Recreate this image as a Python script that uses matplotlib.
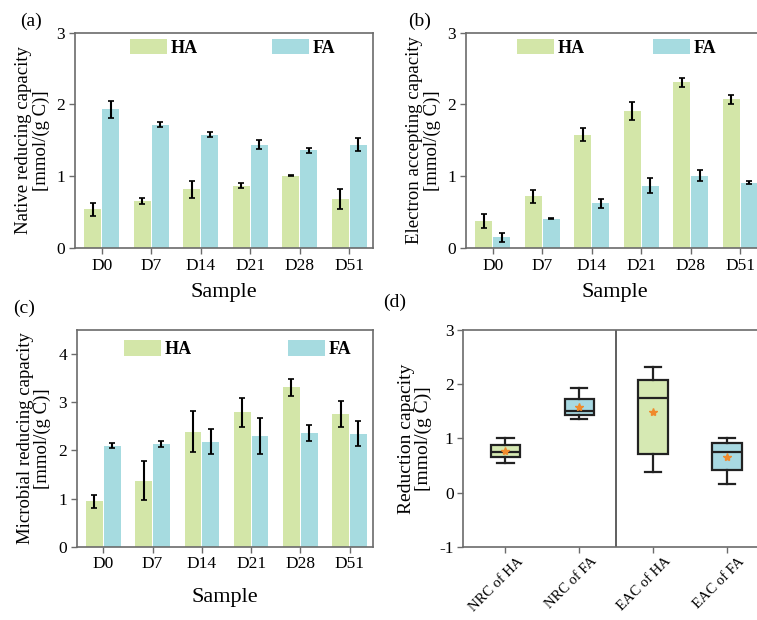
import numpy as np
import matplotlib
matplotlib.use('Agg')
import matplotlib.pyplot as plt
import matplotlib.transforms as mtransforms

plt.rcParams['font.family'] = ['Liberation Serif', 'DejaVu Serif']
plt.rcParams['axes.unicode_minus'] = False

days = ['D0', 'D7', 'D14', 'D21', 'D28', 'D51']

# (a) native reducing capacity
nrc_ha = [0.54, 0.65, 0.82, 0.87, 1.01, 0.68]
nrc_ha_err = [0.09, 0.04, 0.12, 0.035, 0.01, 0.14]
nrc_fa = [1.93, 1.72, 1.58, 1.44, 1.36, 1.44]
nrc_fa_err = [0.12, 0.03, 0.035, 0.065, 0.03, 0.09]

# (b) electron accepting capacity
eac_ha = [0.38, 0.72, 1.58, 1.91, 2.31, 2.07]
eac_ha_err = [0.10, 0.09, 0.085, 0.13, 0.06, 0.065]
eac_fa = [0.15, 0.41, 0.62, 0.87, 1.01, 0.91]
eac_fa_err = [0.06, 0.01, 0.06, 0.10, 0.07, 0.02]

# (c) microbial reducing capacity
mrc_ha = [0.94, 1.37, 2.39, 2.79, 3.31, 2.75]
mrc_ha_err = [0.14, 0.41, 0.43, 0.30, 0.17, 0.27]
mrc_fa = [2.10, 2.14, 2.18, 2.30, 2.36, 2.35]
mrc_fa_err = [0.06, 0.06, 0.26, 0.37, 0.17, 0.26]

box_labels = ['NRC of HA', 'NRC of FA', 'EAC of HA', 'EAC of FA']

green = '#d3e6a8'
blue = '#a6dbe0'
spine_col = '#6b6b6b'


def style_axes(ax):
    for s in ax.spines.values():
        s.set_color(spine_col)
        s.set_linewidth(1.2)
    ax.tick_params(axis='both', direction='out', length=4, width=1.0,
                   color=spine_col, labelsize=12.5, pad=3)
    ax.tick_params(top=False, right=False)


def bar_panel(ax, ha, ha_err, fa, fa_err, ylim, yticks, ylabel, leg_x, leg_y, colsp, xpad):
    x = np.arange(len(days))
    w = 0.34
    ax.bar(x - w / 2 - 0.01, ha, w, color=green, label='HA')
    ax.bar(x + w / 2 + 0.01, fa, w, color=blue, label='FA')
    ax.errorbar(x - w / 2 - 0.01, ha, yerr=ha_err, fmt='none', ecolor='black',
                elinewidth=1.5, capsize=2, capthick=1.2)
    ax.errorbar(x + w / 2 + 0.01, fa, yerr=fa_err, fmt='none', ecolor='black',
                elinewidth=1.5, capsize=2, capthick=1.2)
    ax.set_xlim(-0.54, 5.48)
    ax.set_ylim(*ylim)
    ax.set_yticks(yticks)
    ax.set_xticks(x)
    ax.set_xticklabels(days)
    ax.set_xlabel('Sample', fontsize=16, labelpad=xpad)
    ax.set_ylabel(ylabel, fontsize=13.5, labelpad=5, linespacing=1.0)
    style_axes(ax)
    ax.legend(loc='upper left', bbox_to_anchor=(leg_x, leg_y), ncol=2, frameon=False,
              prop={'size': 13, 'weight': 'bold'}, handlelength=2.05, handleheight=0.95,
              handletextpad=0.2, columnspacing=colsp, borderpad=0, borderaxespad=0)


fig = plt.figure(figsize=(7.57, 6.2), dpi=100)

ax_a = fig.add_axes([0.0991, 0.600, 0.3937, 0.3473])
bar_panel(ax_a, nrc_ha, nrc_ha_err, nrc_fa, nrc_fa_err, (0, 3), [0, 1, 2, 3],
          'Native reducing capacity\n[mmol/(g C)]', 0.185, 0.972, 4.1, 7)

ax_b = fig.add_axes([0.6156, 0.600, 0.3937, 0.3473])
bar_panel(ax_b, eac_ha, eac_ha_err, eac_fa, eac_fa_err, (0, 3), [0, 1, 2, 3],
          'Electron accepting capacity\n[mmol/(g C)]', 0.171, 0.972, 3.8, 7)

ax_c = fig.add_axes([0.1013, 0.1182, 0.3918, 0.3495])
bar_panel(ax_c, mrc_ha, mrc_ha_err, mrc_fa, mrc_fa_err, (0, 4.5), [0, 1, 2, 3, 4],
          'Microbial reducing capacity\n[mmol/(g C)]', 0.16, 0.952, 5.3, 11)

# (d) box plots built from the NRC and EAC series
ax_d = fig.add_axes([0.612, 0.1182, 0.4042, 0.3495])
groups = [nrc_ha, nrc_fa, eac_ha, eac_fa]
stats = []
for vals in groups:
    v = np.sort(np.array(vals))
    n = len(v)
    lower = v[:(n + 1) // 2]
    upper = v[n // 2:]
    stats.append(dict(med=np.median(v), q1=np.median(lower), q3=np.median(upper),
                      whislo=v.min(), whishi=v.max(), mean=v.mean(), fliers=[]))
pos = np.arange(4)
bp = ax_d.bxp(stats, positions=pos, widths=0.4, patch_artist=True, showmeans=True,
              boxprops=dict(linewidth=1.6, edgecolor='#222222'),
              medianprops=dict(color='#222222', linewidth=1.6),
              whiskerprops=dict(color='#222222', linewidth=1.6),
              capprops=dict(color='#222222', linewidth=1.6),
              meanprops=dict(marker='*', markerfacecolor='#f08a2c',
                             markeredgecolor='#f08a2c', markersize=6),
              capwidths=0.22)
for patch, c in zip(bp['boxes'], ['#d6e9b3', '#a8d9e2', '#d6e9b3', '#a8d9e2']):
    patch.set_facecolor(c)
ax_d.axvline(1.5, color='#444444', linewidth=1.2)
ax_d.set_xlim(-0.57, 3.57)
ax_d.set_ylim(-1, 3)
ax_d.set_yticks([-1, 0, 1, 2, 3])
ax_d.set_xticks(pos)
ax_d.set_xticklabels(box_labels, rotation=45, ha='right', rotation_mode='anchor')
style_axes(ax_d)
ax_d.tick_params(axis='x', labelsize=10.5, pad=2)
shift = mtransforms.ScaledTranslation(8 / 72, 0, fig.dpi_scale_trans)
for lab in ax_d.get_xticklabels():
    lab.set_transform(lab.get_transform() + shift)
ax_d.set_ylabel('Reduction capacity\n[mmol/(g C)]', fontsize=14, labelpad=5, linespacing=1.0)

fig.text(0.027, 0.965, '(a)', fontsize=14, va='center')
fig.text(0.539, 0.965, '(b)', fontsize=14, va='center')
fig.text(0.017, 0.503, '(c)', fontsize=14, va='center')
fig.text(0.506, 0.513, '(d)', fontsize=14, va='center')

fig.savefig('out.png', dpi=100)
